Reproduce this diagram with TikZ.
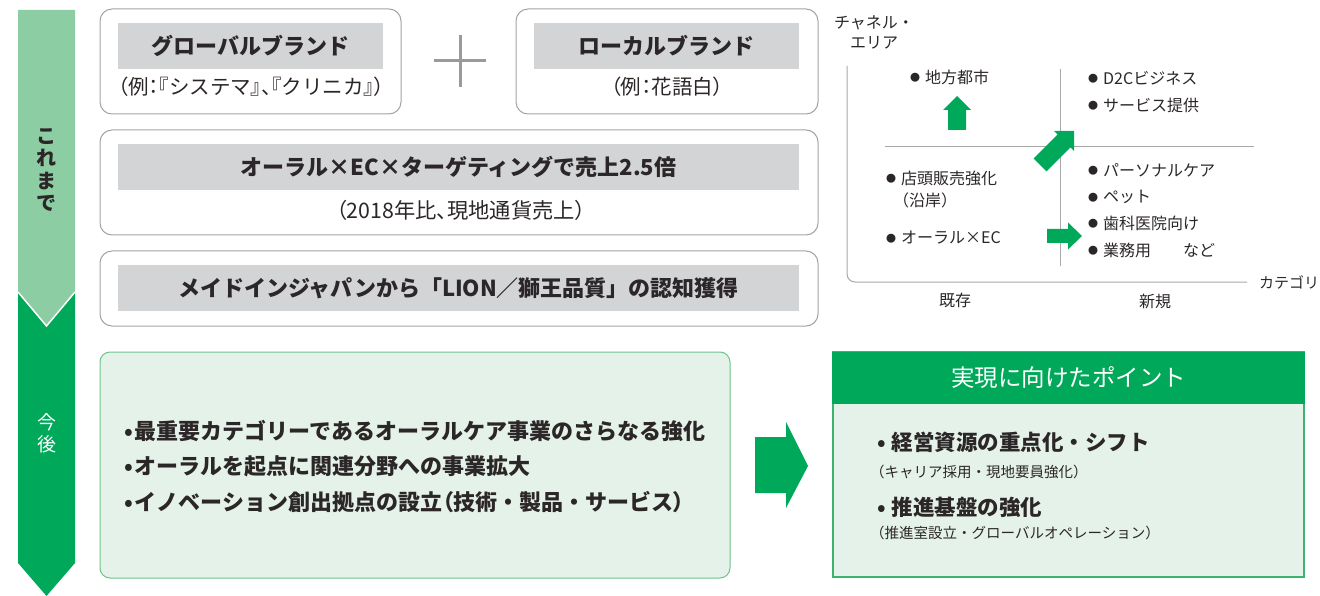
\documentclass[tikz,border=0pt]{standalone}
\usepackage{fontspec}
\setmainfont{Noto Sans CJK JP}
\newfontfamily\paltfont{Noto Sans CJK JP}[RawFeature=+palt]
\newcommand\myfs[1]{\fontsize{#1}{#1}\selectfont}
\newcommand\hp[1]{{\paltfont #1}}
\newcommand\chartdot{\raisebox{1.5pt}{\myfs{10}●}\hspace{5pt}}
\definecolor{lgreen}{HTML}{8DCDA3}
\definecolor{dgreen}{HTML}{00A85A}
\definecolor{lfill}{HTML}{E5F2E9}
\definecolor{boxgreen}{HTML}{6CC48D}
\definecolor{boxgreenb}{HTML}{3DB36E}
\definecolor{headgray}{HTML}{D3D4D6}
\definecolor{boxgray}{HTML}{A3A3A3}
\definecolor{plusgray}{HTML}{9A9A9A}
\definecolor{axisgray}{HTML}{A8A8A8}
\definecolor{txt}{HTML}{2B2627}
\begin{document}
\begin{tikzpicture}[x=1pt,y=-1pt,
  outerbox/.style={draw=boxgray,line width=1pt,rounded corners=12pt,fill=white,inner sep=0},
  headbox/.style={fill=headgray,inner sep=0,text=txt,font=\bfseries\myfs{22}},
  subtxt/.style={inner sep=0,text=txt,font=\myfs{20.5}},
  charttxt/.style={inner sep=0,text=txt,font=\myfs{16},anchor=west},
  futtxt/.style={inner sep=0,text=txt,font=\bfseries\myfs{22},anchor=west},
  pttxt/.style={inner sep=0,text=txt,font=\myfs{21.5}\bfseries,anchor=west},
  ptsmall/.style={inner sep=0,text=txt,font=\myfs{14.5},anchor=west}]
\useasboundingbox (0,0) rectangle (1320,596);

% left timeline arrow
\fill[dgreen] (18,292) -- (75,292) -- (75,563) -- (46.5,596) -- (18,563) -- cycle;
\fill[lgreen] (18,10) -- (75,10) -- (75,292) -- (46.5,326) -- (18,292) -- cycle;
\draw[white,line width=1.5pt] (18,292) -- (46.5,326) -- (75,292);
\node[inner sep=0,text=txt,font=\bfseries\fontsize{20}{22.5}\selectfont,align=center] (past) at (46.5,170) {こ\\れ\\ま\\で};
\node[inner sep=0,text=white,font=\fontsize{19}{22}\selectfont,align=center] (future) at (46.5,433) {今\\後};

% top boxes
\node[outerbox,minimum width=301pt,minimum height=105pt] (gbox) at (250.5,61.5) {};
\node[outerbox,minimum width=302pt,minimum height=105pt] (lbox) at (667,61.5) {};
\node[outerbox,minimum width=718pt,minimum height=105pt] (ecbox) at (459,182.5) {};
\node[outerbox,minimum width=718pt,minimum height=75pt] (mjbox) at (459,288.5) {};

\node[headbox,minimum width=265pt,minimum height=46pt] (gh) at (250.5,46) {グローバルブランド};
\node[subtxt] (gs) at (251,87) {\hp{（}例\hp{：『}システマ\hp{』、『}クリニカ\hp{』）}};
\node[headbox,minimum width=265pt,minimum height=46pt] (lh) at (666.5,46) {ローカルブランド};
\node[subtxt] (ls) at (667,87) {\hp{（}例\hp{：}花語白\hp{）}};
\node[headbox,minimum width=681pt,minimum height=46pt] (eh) at (458.5,167) {オーラル×EC×ターゲティングで売上2.5倍};
\node[subtxt,font=\myfs{21.3}] (es) at (461,210) {\hp{（}2018年比\hp{、}現地通貨売上\hp{）}};
\node[headbox,minimum width=681pt,minimum height=46pt] (mh) at (458.5,288) {メイドインジャパンから「LION／獅王品質」の認知獲得};

\coordinate (plus) at (460,61);
\draw[plusgray,line width=3pt] (plus) +(-26,0) -- +(26,0) (plus) +(0,-26) -- +(0,26);

% chart
\coordinate (ytop) at (847,66);
\coordinate (orig) at (847,282);
\coordinate (xend) at (1247,282);
\draw[axisgray,line width=1pt,rounded corners=8pt] (ytop) -- (orig) -- (xend);
\coordinate (vtop) at (1060,69);
\coordinate (vbot) at (1060,266);
\coordinate (hl) at (885,147);
\coordinate (hr) at (1254,147);
\draw[axisgray,line width=1pt] (vtop) -- (vbot) (hl) -- (hr);
\node[inner sep=0,text=txt,font=\fontsize{16}{20}\selectfont,align=center] (ylab) at (874,32) {チャネル・\\エリア};
\node[inner sep=0,text=txt,font=\myfs{15}] (xlab) at (1289,282) {カテゴリ};
\node[inner sep=0,text=txt,font=\myfs{16}] (exist) at (955,300) {既存};
\node[inner sep=0,text=txt,font=\myfs{16}] (new) at (1155,301) {新規};

\node[charttxt] (i1) at (910,77) {\chartdot 地方都市};
\node[charttxt] (i2) at (1088,78) {\chartdot D2Cビジネス};
\node[charttxt] (i3) at (1088,105) {\chartdot サービス提供};
\node[charttxt] (i4) at (886,178) {\chartdot 店頭販売強化};
\node[charttxt] (i4b) at (893,200) {（沿岸）};
\node[charttxt] (i5) at (886,238) {\chartdot オーラル×EC};
\node[charttxt] (i6) at (1088,170) {\chartdot パーソナルケア};
\node[charttxt] (i7) at (1088,197) {\chartdot ペット};
\node[charttxt] (i8) at (1088,223) {\chartdot 歯科医院向け};
\node[charttxt] (i9) at (1088,250) {\chartdot 業務用　　など};

% chart arrows
\fill[dgreen] (957,96) -- (971,110) -- (966,110) -- (966,130) -- (948,130) -- (948,110) -- (943,110) -- cycle;
\fill[dgreen] (1054,131) -- (1074,131) -- (1074,151) -- (1070.4,147.4) -- (1046.4,171.4) -- (1033.6,158.6) -- (1057.6,134.6) -- cycle;
\fill[dgreen] (1047,229) -- (1068,229) -- (1068,222.5) -- (1082,236) -- (1068,249.5) -- (1068,243) -- (1047,243) -- cycle;

% future box
\node[draw=boxgreen,fill=lfill,line width=1pt,rounded corners=10pt,minimum width=630pt,minimum height=226pt,inner sep=0] (fut) at (415,465) {};
\node[futtxt] (f1) at (124,431) {•\hspace{2pt}最重要カテゴリーであるオーラルケア事業のさらなる強化};
\node[futtxt] (f2) at (124,466) {•\hspace{2pt}オーラルを起点に関連分野への事業拡大};
\node[futtxt] (f3) at (124,502) {•\hspace{2pt}イノベーション創出拠点の設立\hp{（}技術・製品・サービス\hp{）}};

% big arrow
\fill[dgreen] (755,437) -- (786,437) -- (786,422) -- (808,466) -- (786,508) -- (786,493) -- (755,493) -- cycle;

% points box
\node[draw=boxgreenb,fill=lfill,line width=1.5pt,minimum width=471pt,minimum height=225pt,inner sep=0] (pt) at (1068.5,464.5) {};
\node[fill=dgreen,minimum width=472.5pt,minimum height=52pt,text=white,font=\myfs{23.5},inner sep=0] (pth) at (1068.5,378) {実現に向けたポイント};
\node[pttxt] (p1) at (877,442) {•\hspace{6pt}経営資源の重点化・シフト};
\node[ptsmall] (p1s) at (870,472) {（キャリア採用・現地要員強化）};
\node[pttxt] (p2) at (877,507) {•\hspace{6pt}推進基盤の強化};
\node[ptsmall] (p2s) at (870,533) {（推進室設立・グローバルオペレーション）};
\end{tikzpicture}
\end{document}
